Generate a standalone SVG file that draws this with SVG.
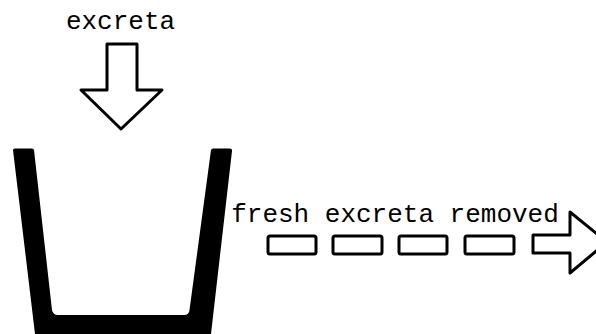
<svg xmlns="http://www.w3.org/2000/svg" width="596" height="334" viewBox="0 0 596 334">
  <style>
    .lbl { font-family: "Liberation Mono", "Courier New", monospace; font-size: 26px; fill: #000; }
    .outline { fill: #fff; stroke: #000; stroke-width: 3; stroke-linejoin: round; }
  </style>
  <rect width="596" height="334" fill="#fff"/>
  <g id="excreta-label">
    <text class="lbl" x="120.5" y="29" text-anchor="middle">excreta</text>
  </g>
  <g id="cup">
    <path d="M13,150 Q13,148.5 15,148.5 L32,148.5 Q33.5,148.5 34,150 L52,310 Q53,315 58,315 L184,315 Q189,315 189.5,310 L211,150 Q211.5,148.5 213,148.5 L230,148.5 Q232.5,148.5 232,151 L211,334 L35,334 Z" fill="#000"/>
  </g>
  <g id="connectors">
    <path id="in-arrow" class="outline" d="M107,44 L137,44 L137,90 L162,90 L121,129 L81,90 L107,90 Z"/>
    <g id="out-arrow">
      <rect class="outline" x="268" y="236" width="48" height="18" rx="2"/>
      <rect class="outline" x="333" y="236" width="49" height="18" rx="2"/>
      <rect class="outline" x="399" y="236" width="48" height="18" rx="2"/>
      <rect class="outline" x="465" y="236" width="49" height="18" rx="2"/>
      <path class="outline" d="M533,235 L570,235 L570,212 L607,242 L570,273 L570,253 L533,253 Z"/>
    </g>
  </g>
  <g id="removed-label">
    <text class="lbl" x="395" y="222" text-anchor="middle">fresh excreta removed</text>
  </g>
</svg>
